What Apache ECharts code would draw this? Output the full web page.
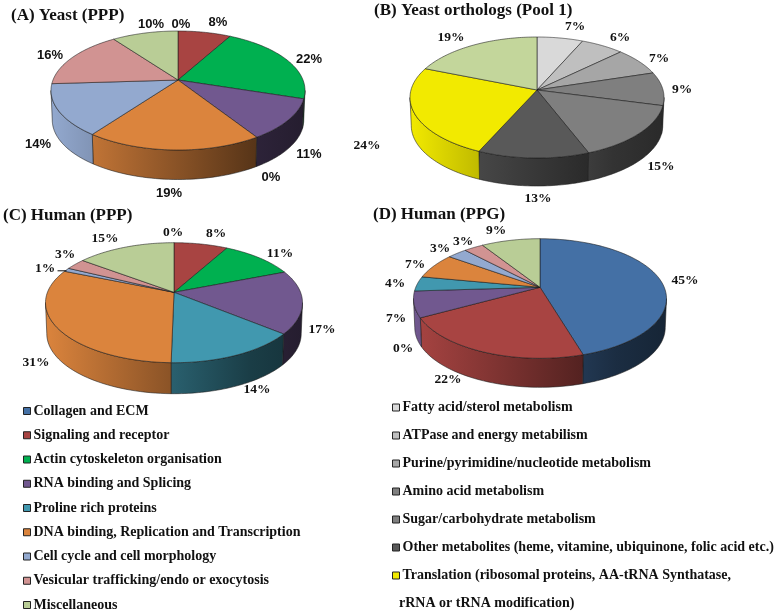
<!DOCTYPE html>
<html><head><meta charset="utf-8">
<style>html,body{margin:0;padding:0;background:#fff}#c{width:778px;height:613px}</style>
<script src="https://cdn.jsdelivr.net/npm/echarts@6/dist/echarts.min.js"></script>
</head><body><div id="c"></div>
<script>
// ---- data ----
const functionCategories = ['Collagen and ECM','Signaling and receptor','Actin cytoskeleton organisation','RNA binding and Splicing','Proline rich proteins','DNA binding, Replication and Transcription','Cell cycle and cell morphology','Vesicular trafficking/endo or exocytosis','Miscellaneous'];
const metabolismCategories = ['Fatty acid/sterol metabolism','ATPase and energy metabilism','Purine/pyrimidine/nucleotide metabolism','Amino acid metabolism','Sugar/carbohydrate metabolism','Other metabolites (heme, vitamine, ubiquinone, folic acid etc.)','Translation (ribosomal proteins, AA-tRNA Synthatase,'];
const translationContinued = 'rRNA or tRNA modification)';
const yeastPPP = [0,8,22,11,0,19,14,16,10];
const yeastOrthologs = [6.6,6.2,7.4,8.9,15,12.6,24.4,18.9];
const humanPPP = [0,8,11,17,14.3,31,1,3,14.7];
const humanPPG = [45.4,21.6,0,7,4,7,3,3,9];
// ---- styles ----
const functionColors = ['#4470a5','#a84442','#00b050','#71588f','#4198af','#db843d','#93a9cf','#d19392','#b9cd96'];
const metabolismColors = ['#d9d9d9','#bfbfbf','#a6a6a6','#7f7f7f','#7f7f7f','#595959','#f2ea00','#c3d69b'];
const SERIF='"Liberation Serif"', SANS='"Liberation Sans"';
// label centres relative to pie apex, one per slice
const pies = [
 {name:'(A) Yeast (PPP)', values:yeastPPP, colors:functionColors, cx:178, ay:80, above:49, below:70, half:127, depth:29.5, font:'bold 13px '+SANS,
  titleLeft:11, titleTop:7,
  labels:[[3,-56],[40,-58],[131,-21],[131,74],[93,97],[-9,113],[-140,64],[-128,-25],[-27,-56]]},
 {name:'(B) Yeast orthologs (Pool 1)', values:yeastOrthologs, colors:metabolismColors, cx:537, ay:90, above:53, below:68, half:127, depth:28, font:'bold 13.5px '+SERIF,
  titleLeft:374, titleTop:2,
  labels:[[38,-63],[83,-52],[122,-31],[145,0],[124,77],[1,109],[-170,56],[-86,-52]]},
 {name:'(C) Human (PPP)', values:humanPPP, colors:functionColors, cx:174, ay:292.3, above:49.6, below:70.4, half:128.5, depth:31, font:'bold 13.5px '+SERIF,
  titleLeft:3, titleTop:207,
  labels:[[-1,-60],[42,-59],[106,-39],[148,37],[83,97],[-138,70],[-129,-24],[-109,-38],[-69,-54]], leader:6},
 {name:'(D) Human (PPG)', values:humanPPG, colors:functionColors, cx:540, ay:287.3, above:48.6, below:71, half:126.5, depth:29, font:'bold 13.5px '+SERIF,
  titleLeft:373, titleTop:206,
  labels:[[145,-7],[-92,92],[-137,61],[-144,31],[-145,-4],[-125,-23],[-100,-39],[-77,-46],[-44,-57]]}
];
// perspective projection of the unit circle, angle measured clockwise from 12 o'clock
function projector(p){
  const k=(p.below-p.above)/(p.below+p.above), ry=p.above*(1+k), rx=p.half*Math.sqrt(1-k*k);
  return {k, at(pct,r,off){const t=pct/100*2*Math.PI,u=Math.sin(t),v=-Math.cos(t),w=1/(1-k*v*r);
    return [p.cx+rx*u*r*w, p.ay+ry*v*r*w+(off||0)];}};
}
function shade(hex,f){const n=parseInt(hex.slice(1),16);return 'rgb('+[n>>16,(n>>8)&255,n&255].map(c=>Math.round(c*f)).join(',')+')';}
function wallFill(p,color){
  const l=p.cx-p.half,r=p.cx+p.half;
  return new echarts.graphic.LinearGradient(l,0,r,0,[
    {offset:0,color:shade(color,1)},{offset:.4,color:shade(color,.7)},{offset:.8,color:shade(color,.4)},{offset:1,color:shade(color,.33)}],true);
}
function renderer(p){
  const P=projector(p), front0=Math.acos(-P.k)/(2*Math.PI)*100, front1=100-front0, STROKE='rgba(25,25,25,.8)';
  return function(params,api){
    const val=api.value(0),s=api.value(1),e=api.value(2),i=params.dataIndex,color=p.colors[i],children=[];
    if(val>0){
      const a=Math.max(s,front0),b=Math.min(e,front1);
      if(b>a){
        const top=[],bot=[];
        for(let j=0;j<=40;j++){const q=a+(b-a)*j/40;top.push(P.at(q,1));const o=P.at(q,1,p.depth);o[0]=p.cx+(o[0]-p.cx)*.99;bot.unshift(o);}
        children.push({type:'polygon',z2:1,shape:{points:top.concat(bot)},style:{fill:wallFill(p,color),stroke:STROKE,lineWidth:.7}});
      }
      const pts=[[p.cx,p.ay]];
      for(let j=0;j<=60;j++)pts.push(P.at(s+(e-s)*j/60,1));
      children.push({type:'polygon',z2:2,shape:{points:pts},style:{fill:color,stroke:STROKE,lineWidth:.7,lineJoin:'round'}});
    }
    const lb=p.labels[i];
    children.push({type:'text',z2:5,style:{text:Math.round(val)+'%',x:p.cx+lb[0],y:p.ay+lb[1],align:'center',verticalAlign:'middle',fill:'#111',font:p.font}});
    if(p.leader===i){
      const m=P.at((s+e)/2,1);
      children.push({type:'line',z2:5,shape:{x1:m[0]-9,y1:m[1]+1,x2:m[0],y2:m[1]+1},style:{stroke:'#111',lineWidth:1}});
    }
    return {type:'group',children};
  };
}
const pieSeries=pies.map(p=>{
  let c=0;
  const rows=p.values.map(v=>{const r=[v,c,c+v];c+=v;return r;});
  return {type:'custom',name:p.name,coordinateSystem:'none',silent:true,animation:false,clip:false,data:rows,renderItem:renderer(p)};
});
const keySeries=(names,cols)=>names.map((n,i)=>({type:'custom',name:n,coordinateSystem:'none',silent:true,data:[],renderItem(){return null;},itemStyle:{color:cols[i]}}));
const legendText={color:'#111',fontFamily:SERIF,fontWeight:'bold',fontSize:14,lineHeight:14,padding:[0,0,0,-2]};
const legendBase={orient:'vertical',icon:'rect',itemWidth:7,itemHeight:7,selectedMode:false,padding:0,textStyle:legendText,
  itemStyle:{borderColor:'#222',borderWidth:1}};
const chart=echarts.init(document.getElementById('c'),null,{renderer:'canvas'});
chart.setOption({
  animation:false,backgroundColor:'#fff',
  title:pies.map(p=>({text:p.name,left:p.titleLeft,top:p.titleTop,padding:0,textStyle:{fontFamily:SERIF,fontWeight:'bold',fontSize:17,color:'#111'}})),
  legend:[
    Object.assign({},legendBase,{left:23,top:404,itemGap:10.25,data:functionCategories}),
    Object.assign({},legendBase,{left:392,top:400.5,itemGap:14,data:metabolismCategories})
  ],
  graphic:[{type:'text',left:399,top:596,style:{text:translationContinued,fill:'#111',font:'bold 14px '+SERIF}}],
  series:pieSeries.concat(keySeries(functionCategories,functionColors),keySeries(metabolismCategories,metabolismColors))
});
</script></body></html>
